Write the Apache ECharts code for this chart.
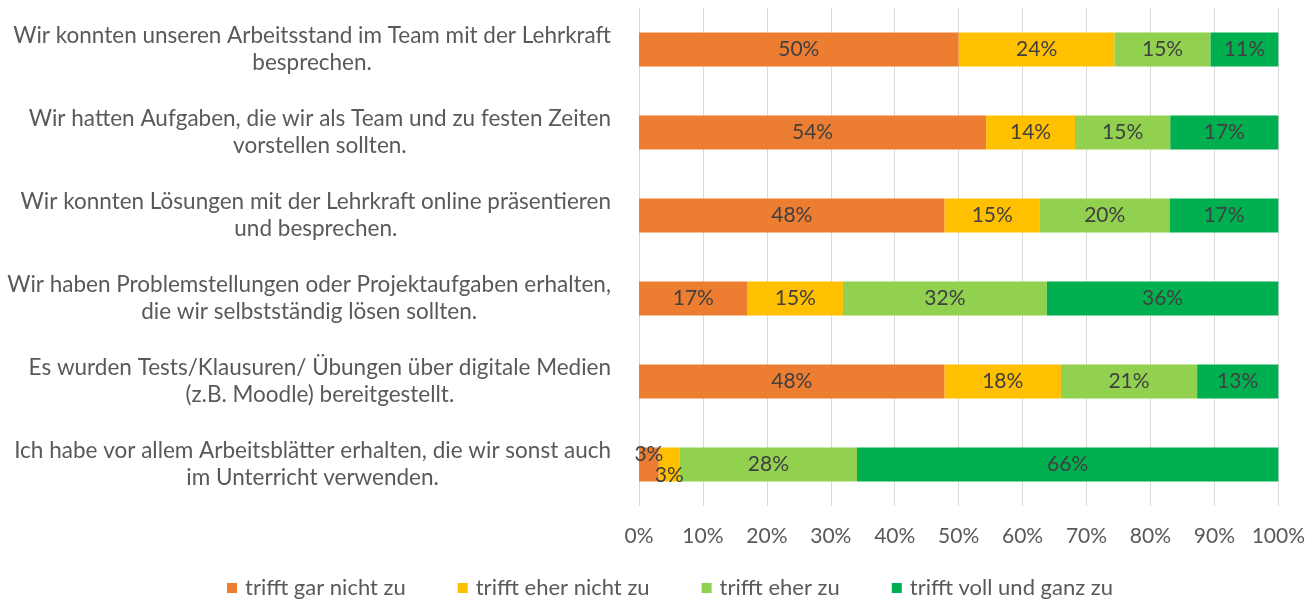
<!DOCTYPE html>
<html>
<head>
<meta charset="utf-8">
<script src="https://cdn.jsdelivr.net/npm/echarts@6/dist/echarts.min.js"></script>
<style>
html,body{margin:0;padding:0;background:#fff;}
#chart{width:1308px;height:602px;}
</style>
</head>
<body>
<div id="chart"></div>
<script>
const categories = [
  "Wir konnten unseren Arbeitsstand im Team mit der Lehrkraft\nbesprechen.",
  "Wir hatten Aufgaben, die wir als Team und zu festen Zeiten\nvorstellen sollten.",
  "Wir konnten Lösungen mit der Lehrkraft online präsentieren\nund besprechen.",
  "Wir haben Problemstellungen oder Projektaufgaben erhalten,\ndie wir selbstständig lösen sollten.",
  "Es wurden Tests/Klausuren/ Übungen über digitale Medien\n(z.B. Moodle) bereitgestellt.",
  "Ich habe vor allem Arbeitsblätter erhalten, die wir sonst auch\nim Unterricht verwenden."
];
const seriesNames = ["trifft gar nicht zu", "trifft eher nicht zu", "trifft eher zu", "trifft voll und ganz zu"];
const garNicht  = [50.0, 54.3, 47.8, 17.0, 47.8, 3.1];
const eherNicht = [24.4, 13.9, 14.9, 14.9, 18.2, 3.3];
const eherZu    = [15.0, 14.9, 20.3, 31.9, 21.3, 27.7];
const vollGanz  = [10.6, 16.9, 17.0, 36.2, 12.7, 65.9];
const xTicks = [0, 10, 20, 30, 40, 50, 60, 70, 80, 90, 100];

const colors = ["#ED7D31", "#FFC000", "#92D050", "#00B050"];
const FONT = "Lato";
const values = [garNicht, eherNicht, eherZu, vollGanz];

// label offsets for crowded small segments (last row)
const labelOffsets = {"0-5": [0, -10], "1-5": [0, 11]};

const series = values.map((arr, si) => ({
  name: seriesNames[si],
  type: "bar",
  stack: "total",
  barWidth: 34,
  itemStyle: {color: colors[si]},
  label: {
    show: true,
    position: "inside",
    color: "#404040",
    fontFamily: FONT,
    fontSize: 21,
    formatter: p => Math.round(p.value) + "%"
  },
  data: arr.map((v, i) => {
    const off = labelOffsets[si + "-" + i];
    return off ? {value: v, label: {offset: off}} : v;
  })
}));

const chart = echarts.init(document.getElementById("chart"), null, {renderer: "canvas"});
chart.setOption({
  animation: false,
  backgroundColor: "#fff",
  grid: {left: 639, right: 29, top: 8, bottom: 96, containLabel: false},
  xAxis: {
    type: "value",
    min: xTicks[0],
    max: xTicks[xTicks.length - 1],
    interval: 10,
    axisLine: {show: false},
    axisTick: {show: false},
    splitLine: {show: true, lineStyle: {color: "#D9D9D9", width: 1}},
    axisLabel: {
      color: "#595959",
      fontFamily: FONT,
      fontSize: 21,
      margin: 20,
      formatter: "{value}%"
    }
  },
  yAxis: {
    type: "category",
    inverse: true,
    data: categories,
    axisLine: {show: false},
    axisTick: {show: false},
    axisLabel: {
      margin: 28,
      align: "right",
      formatter: v => v.split("\n").map(l => "{c|" + l + "}").join("\n"),
      rich: {
        c: {align: "center", color: "#595959", fontFamily: FONT, fontSize: 22.5, lineHeight: 27}
      }
    }
  },
  legend: {
    top: 572,
    left: 222,
    icon: "rect",
    itemWidth: 10,
    itemHeight: 10,
    itemGap: 52,
    textStyle: {color: "#595959", fontFamily: FONT, fontSize: 22, padding: [0, 0, 0, 3]},
    data: seriesNames
  },
  series: series
});
</script>
</body>
</html>
